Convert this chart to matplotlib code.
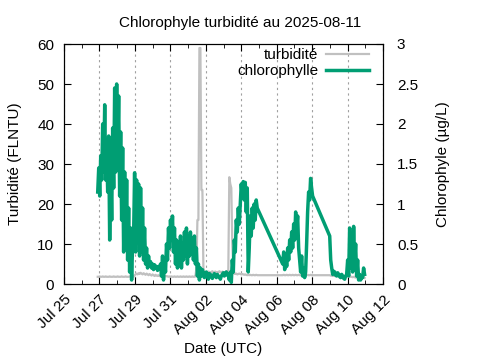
import pandas as pd
import matplotlib
matplotlib.use("Agg")
import matplotlib.pyplot as plt
import matplotlib.dates as mdates

plt.rcParams['font.family'] = ['Liberation Sans', 'DejaVu Sans']

# sampling of the logger (three bursts, gaps in between)
step = '81min'
startA = '2025-07-26 21:40'
startB = '2025-08-06 08:10'
startC = '2025-08-08 23:50'

chlA = [1.15, 1.45, 1.10, 1.60, 1.30, 2.00, 1.40, 2.24, 1.30, 1.70,
        1.15, 1.85, 0.55, 1.50, 0.80, 1.95, 1.20, 2.45, 1.40, 2.50,
        1.60, 2.35, 1.10, 1.90, 0.80, 1.70, 0.40, 1.40, 0.50, 1.30,
        0.30, 0.95, 0.15, 0.70, 0.05, 0.50, 0.60, 1.39, 0.40, 1.30,
        0.55, 1.25, 0.35, 1.20, 0.40, 0.95, 0.30, 0.70, 0.25, 0.45,
        0.20, 0.35, 0.22, 0.28, 0.20, 0.25, 0.18, 0.24, 0.20, 0.22,
        0.17, 0.21, 0.20, 0.25, 0.10, 0.35, 0.05, 0.30, 0.15, 0.50,
        0.30, 0.70, 0.45, 0.80, 0.55, 0.85, 0.40, 0.70, 0.25, 0.55,
        0.20, 0.45, 0.30, 0.60, 0.20, 0.50, 0.30, 0.65, 0.35, 0.70,
        0.25, 0.60, 0.35, 0.65, 0.40, 0.55, 0.30, 0.60, 0.25, 0.45,
        0.10, 0.25, 0.05, 0.20, 0.10, 0.18, 0.12, 0.08, 0.14, 0.15,
        0.10, 0.06, 0.13, 0.12, 0.09, 0.07, 0.11, 0.13, 0.10, 0.08,
        0.12, 0.10, 0.09, 0.06, 0.10, 0.12, 0.14, 0.10, 0.13, 0.15,
        0.11, 0.12, 0.05, 0.15, 0.02, 0.30, 0.15, 0.55, 0.40, 0.80,
        0.65, 0.95, 0.75, 1.00, 1.25, 1.10, 1.28, 1.05, 1.27, 0.90,
        1.20, 0.15, 0.45, 0.85, 0.60, 0.95, 0.70, 1.00, 0.80, 1.05,
        0.95]
chlB = [0.25, 0.40, 0.18, 0.38, 0.22, 0.45, 0.30, 0.55, 0.40, 0.65,
        0.45, 0.75, 0.55, 0.90, 0.70, 0.85, 0.45, 0.30, 0.15, 0.35,
        0.10, 0.20, 0.08, 0.15, 0.50, 0.90, 1.15, 1.05, 1.32, 1.20,
        1.10]
chlC = [0.60, 0.30, 0.20, 0.12, 0.16, 0.15, 0.11, 0.10, 0.14, 0.12,
        0.09, 0.08, 0.12, 0.10, 0.07, 0.06, 0.10, 0.12, 0.30, 0.10,
        0.70, 0.20, 0.55, 0.15, 0.72, 0.25, 0.50, 0.10, 0.30, 0.05,
        0.12, 0.05, 0.10, 0.08, 0.20, 0.12]

turbA = [1.8, 1.8, 1.9, 1.8, 1.8, 1.9, 1.8, 1.8, 1.9, 1.8,
         1.8, 1.8, 1.9, 1.8, 1.8, 1.8, 1.9, 1.8, 1.8, 1.8,
         1.9, 1.8, 1.8, 1.8, 1.9, 1.8, 1.8, 1.8, 1.9, 1.8,
         1.8, 1.8, 1.9, 1.8, 1.8, 1.9, 1.8, 2.2, 2.4, 2.6,
         2.4, 2.7, 2.5, 2.8, 2.6, 2.4, 2.7, 2.5, 2.3, 2.6,
         2.4, 2.2, 2.5, 2.3, 2.1, 2.4, 2.2, 2.0, 2.3, 2.1,
         2.0, 2.2, 2.0, 1.9, 2.1, 2.0, 1.9, 2.1, 1.9, 2.0,
         1.9, 1.8, 1.9, 1.8, 1.9, 1.8, 1.8, 1.9, 1.8, 1.8,
         1.9, 1.8, 1.8, 1.9, 1.8, 1.8, 1.9, 1.8, 1.8, 1.9,
         1.8, 1.8, 1.9, 1.8, 1.8, 1.9, 1.8, 1.8, 1.9, 4.0,
         16.0, 16.0, 59.0, 59.0, 23.5, 23.5, 4.0, 3.0, 2.8, 3.0,
         2.9, 3.1, 3.0, 2.8, 3.0, 3.2, 2.9, 3.0, 3.1, 2.8,
         3.0, 2.9, 3.2, 3.0, 2.9, 3.1, 3.0, 2.8, 3.0, 3.2,
         3.0, 3.5, 26.7, 25.0, 24.0, 10.0, 4.0, 2.6, 2.5, 2.6,
         2.4, 2.5, 2.6, 2.5, 2.4, 2.5, 2.4, 2.3, 2.4, 2.3,
         2.2, 2.3, 2.2, 2.3, 2.2, 2.2, 2.3, 2.2, 2.2, 2.3,
         2.2]
turbB = [2.2, 2.3, 2.2, 2.2, 2.3, 2.2, 2.2, 2.3, 2.2, 2.2,
         2.3, 2.2, 2.2, 2.3, 2.2, 2.2, 2.3, 2.2, 2.2, 2.3,
         2.2, 2.2, 2.3, 2.2, 2.2, 2.3, 2.2, 2.2, 2.3, 2.2,
         2.2]
turbC = [2.2, 2.1, 2.1, 2.0, 2.1, 2.0, 2.0, 2.1, 2.0, 2.0,
         2.1, 2.0, 2.0, 1.9, 2.0, 1.9, 1.9, 2.0, 1.9, 1.8,
         1.9, 1.8, 1.8, 1.7, 1.8, 1.7, 1.6, 1.7, 1.6, 1.6,
         1.5, 1.6, 1.5, 1.5, 1.6, 1.5]

xlim = ('2025-07-25', '2025-08-12')

# build time axis
times = pd.DatetimeIndex([])
for start, vals in [(startA, chlA), (startB, chlB), (startC, chlC)]:
    times = times.append(pd.date_range(start, periods=len(vals), freq=step))
chl = chlA + chlB + chlC
turb = turbA + turbB + turbC

fig = plt.figure(figsize=(4.8, 3.6), dpi=100)
ax = fig.add_axes([64/480, 76/360, 319/480, 240/360])
ax2 = ax.twinx()

lt, = ax.plot(times, turb, color='#c0c0c0', lw=1.6, label='turbidité')
lc, = ax2.plot(times, chl, color='#009e73', lw=2.5, label='chlorophylle')

ax.set_xlim(pd.Timestamp(xlim[0]), pd.Timestamp(xlim[1]))
ax.set_ylim(0, 60)
ax2.set_ylim(0, 3)
ax.set_yticks(range(0, 61, 10))
ax2.set_yticks([0, 0.5, 1, 1.5, 2, 2.5, 3])
ax2.set_yticklabels(['0', '0.5', '1', '1.5', '2', '2.5', '3'])

ax.xaxis.set_major_locator(mdates.DayLocator(interval=2))
ax.xaxis.set_minor_locator(mdates.DayLocator())
ax.xaxis.set_major_formatter(mdates.DateFormatter('%b %d'))
for lab in ax.get_xticklabels():
    lab.set_rotation(45)
    lab.set_ha('right')
    lab.set_rotation_mode('anchor')

ax.grid(True, axis='x', color='#a0a0a0', ls=(0, (2, 3)), lw=0.8)
ax.tick_params(axis='x', which='both', direction='in', top=True, labelsize=11, pad=6)
ax.tick_params(axis='x', which='major', length=5)
ax.tick_params(axis='x', which='minor', length=3)
ax.tick_params(axis='y', direction='in', length=5, labelsize=11, pad=7)
ax2.tick_params(axis='y', direction='in', length=5, labelsize=11, pad=10)

ax.set_xlabel('Date (UTC)', fontsize=11, labelpad=4)
ax.set_ylabel('Turbidité (FLNTU)', fontsize=11, labelpad=11)
ax2.set_ylabel('Chlorophyle (µg/L)', fontsize=11, labelpad=13)
fig.suptitle('Chlorophyle turbidité au 2025-08-11', fontsize=11, y=0.955)

ax2.legend(handles=[lt, lc], loc='upper right', frameon=False, markerfirst=False,
           fontsize=11, handlelength=2.8, labelspacing=0.1, handletextpad=0.5,
           bbox_to_anchor=(0.985, 1.02), borderaxespad=0.2)

fig.savefig('out.png', dpi=100)
